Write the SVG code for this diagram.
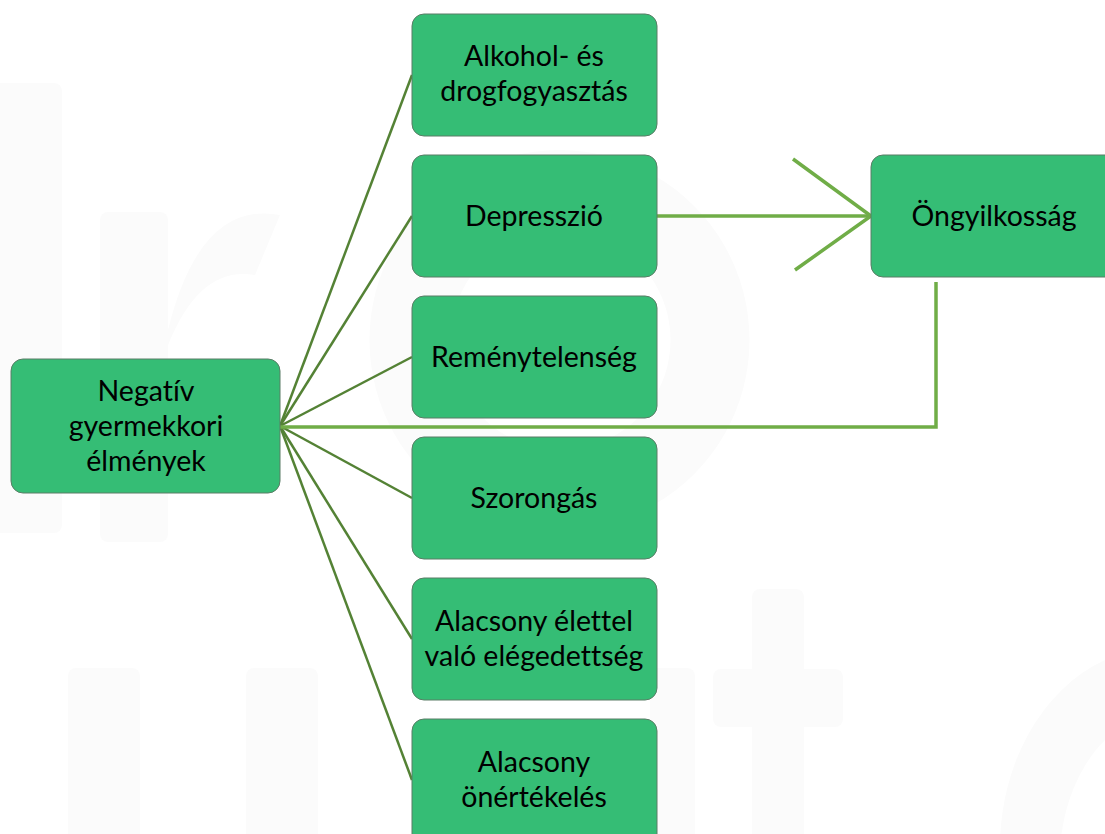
<svg xmlns="http://www.w3.org/2000/svg" width="1105" height="834" viewBox="0 0 1105 834">
<style>
.box{fill:#35bd75;stroke:#5a7d66;stroke-width:1}
.t{font-family:Lato,"Liberation Sans",sans-serif;font-size:28.5px;fill:#000;text-anchor:middle;font-variant-ligatures:none}
.c{stroke:#548235;stroke-width:2.5;fill:none}
.c2{stroke:#70ad47;stroke-width:3.5;fill:none}
.wm{fill:#fbfbfb}
</style>
<rect width="1105" height="834" fill="#fff"/>
<g id="watermark">
<rect class="wm" x="-10" y="83" width="72" height="450" rx="8"/>
<rect class="wm" x="100" y="212" width="68" height="330" rx="8"/>
<path class="wm" d="M168 330 Q200 200 280 215 L255 275 Q200 265 168 345 Z"/>
<path class="wm" d="M560 150 A190 190 0 1 1 559 150 Z M560 230 A110 110 0 1 0 561 230 Z" fill-rule="evenodd"/>
<rect class="wm" x="68" y="668" width="72" height="180" rx="8"/>
<rect class="wm" x="246" y="668" width="72" height="180" rx="8"/>
<rect class="wm" x="650" y="668" width="45" height="180" rx="8"/>
<rect class="wm" x="713" y="669" width="130" height="58" rx="8"/>
<rect class="wm" x="752" y="589" width="52" height="260" rx="8"/>
<path class="wm" d="M1105 660 A160 200 0 0 0 1000 850 L1060 850 A110 150 0 0 1 1105 740 Z"/>
</g>
<g id="connectors">
<line class="c" x1="280" y1="426" x2="412" y2="75"/>
<line class="c" x1="280" y1="426" x2="412" y2="216"/>
<line class="c" x1="280" y1="426" x2="412" y2="357"/>
<line class="c" x1="280" y1="426" x2="412" y2="498"/>
<line class="c" x1="280" y1="426" x2="412" y2="639"/>
<line class="c" x1="280" y1="426" x2="412" y2="780"/>
<line class="c2" x1="657" y1="216" x2="871" y2="216" stroke-width="3"/>
<polyline class="c2" points="793,159 871,216 795,270"/>
<polyline class="c2" points="936,282 936,427 280,427"/>
</g>
<g id="n-negativ">
<rect class="box" x="11" y="359" width="269" height="134" rx="12"/>
<text class="t" x="146" y="401">Negatív</text>
<text class="t" x="146" y="436">gyermekkori</text>
<text class="t" x="146" y="471">élmények</text>
</g>
<g id="n-alkohol">
<rect class="box" x="412" y="14" width="245" height="122" rx="12"/>
<text class="t" x="534" y="66">Alkohol- és</text>
<text class="t" x="534" y="101">drogfogyasztás</text>
</g>
<g id="n-depresszio">
<rect class="box" x="412" y="155" width="245" height="122" rx="12"/>
<text class="t" x="534" y="226">Depresszió</text>
</g>
<g id="n-remenytelenseg">
<rect class="box" x="412" y="296" width="245" height="122" rx="12"/>
<text class="t" x="534" y="367">Reménytelenség</text>
</g>
<g id="n-szorongas">
<rect class="box" x="412" y="437" width="245" height="122" rx="12"/>
<text class="t" x="534" y="508">Szorongás</text>
</g>
<g id="n-elegedettseg">
<rect class="box" x="412" y="578" width="245" height="122" rx="12"/>
<text class="t" x="534" y="631">Alacsony élettel</text>
<text class="t" x="534" y="666">való elégedettség</text>
</g>
<g id="n-onertekeles">
<rect class="box" x="412" y="719" width="245" height="140" rx="12"/>
<text class="t" x="534" y="772">Alacsony</text>
<text class="t" x="534" y="807">önértékelés</text>
</g>
<g id="n-ongyilkossag">
<rect class="box" x="871" y="155" width="260" height="122" rx="12"/>
<text class="t" x="994" y="226">Öngyilkosság</text>
</g>
</svg>
